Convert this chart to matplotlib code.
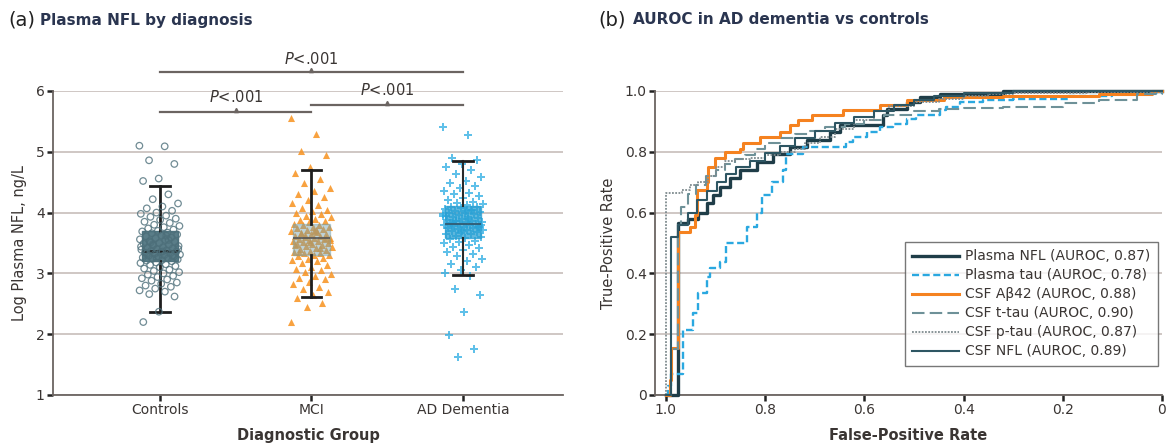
import numpy as np
import matplotlib
matplotlib.use("Agg")
import matplotlib.pyplot as plt

plt.rcParams['font.family'] = ['Liberation Sans Narrow', 'DejaVu Sans']
plt.rcParams['mathtext.fontset'] = 'custom'
plt.rcParams['mathtext.it'] = 'Liberation Sans Narrow:italic'
plt.rcParams['mathtext.rm'] = 'Liberation Sans Narrow'

# ---- panel (a) data ----
groups = ["Controls", "MCI", "AD Dementia"]
box_q1 = [3.21, 3.30, 3.59]
box_med = [3.37, 3.59, 3.82]
box_q3 = [3.70, 3.82, 4.11]
whisk_lo = [2.37, 2.62, 2.97]
whisk_hi = [4.44, 4.70, 4.85]

controls_vals = [5.10, 5.09, 4.86, 4.80, 4.56, 4.52, 4.30, 4.22, 4.15, 4.10, 4.07, 4.03,
                 4.00, 3.98, 3.95, 3.93, 3.90, 3.88, 3.85, 3.83, 3.80, 3.78, 3.76, 3.74,
                 3.72, 3.70, 3.69, 3.67, 3.66, 3.64, 3.62, 3.61, 3.59, 3.58, 3.56, 3.55,
                 3.53, 3.52, 3.50, 3.49, 3.47, 3.46, 3.45, 3.43, 3.42, 3.41, 3.40, 3.39,
                 3.38, 3.37, 3.36, 3.35, 3.34, 3.33, 3.32, 3.31, 3.30, 3.29, 3.28, 3.27,
                 3.26, 3.25, 3.24, 3.23, 3.22, 3.21, 3.20, 3.18, 3.17, 3.15, 3.14, 3.12,
                 3.10, 3.08, 3.06, 3.04, 3.02, 3.00, 2.98, 2.96, 2.94, 2.92, 2.90, 2.88,
                 2.85, 2.83, 2.80, 2.78, 2.75, 2.72, 2.70, 2.66, 2.62, 2.37, 2.20,
                 3.55, 3.48, 3.40, 3.36, 3.33, 3.29, 3.25, 3.44, 3.62, 3.51]
mci_vals = [5.55, 5.30, 5.02, 4.95, 4.75, 4.65, 4.55, 4.48, 4.40, 4.35, 4.30, 4.25,
            4.20, 4.16, 4.12, 4.08, 4.05, 4.02, 4.00, 3.97, 3.95, 3.92, 3.90, 3.88,
            3.86, 3.84, 3.82, 3.80, 3.79, 3.77, 3.76, 3.74, 3.73, 3.71, 3.70, 3.68,
            3.67, 3.65, 3.64, 3.62, 3.61, 3.60, 3.59, 3.58, 3.57, 3.56, 3.55, 3.54,
            3.53, 3.52, 3.50, 3.49, 3.48, 3.46, 3.45, 3.43, 3.42, 3.40, 3.39, 3.37,
            3.36, 3.34, 3.33, 3.31, 3.30, 3.28, 3.26, 3.24, 3.22, 3.20, 3.17, 3.14,
            3.11, 3.08, 3.05, 3.02, 2.99, 2.96, 2.93, 2.90, 2.86, 2.82, 2.78, 2.74,
            2.70, 2.65, 2.60, 2.52, 2.45, 2.20,
            3.72, 3.66, 3.58, 3.51, 3.47, 3.41, 3.63, 3.55, 3.69, 3.35]
ad_vals = [5.40, 5.28, 4.90, 4.86, 4.80, 4.75, 4.70, 4.63, 4.58, 4.52, 4.48, 4.44,
           4.40, 4.36, 4.33, 4.30, 4.27, 4.24, 4.21, 4.18, 4.16, 4.14, 4.12, 4.10,
           4.09, 4.07, 4.06, 4.04, 4.03, 4.01, 4.00, 3.99, 3.97, 3.96, 3.95, 3.93,
           3.92, 3.91, 3.90, 3.88, 3.87, 3.86, 3.85, 3.84, 3.83, 3.82, 3.81, 3.80,
           3.79, 3.78, 3.77, 3.76, 3.75, 3.74, 3.73, 3.72, 3.71, 3.70, 3.68, 3.67,
           3.65, 3.64, 3.62, 3.60, 3.58, 3.56, 3.54, 3.52, 3.50, 3.47, 3.44, 3.41,
           3.38, 3.35, 3.32, 3.28, 3.24, 3.20, 3.15, 3.10, 3.05, 3.00, 2.96, 2.75,
           2.64, 2.36, 1.98, 1.75, 1.62,
           3.98, 3.89, 3.83, 3.76, 3.69, 3.94, 4.05, 3.86, 3.79, 4.02]

pvals = ["P<.001", "P<.001", "P<.001"]

# ---- panel (b) data: ROC step curves (x = false-positive rate axis, reversed) ----
nfl_x = [1.0, 0.976, 0.955, 0.935, 0.918, 0.905, 0.891, 0.871, 0.851, 0.817, 0.784, 0.75,
         0.716, 0.669, 0.649, 0.562, 0.555, 0.515, 0.488, 0.448, 0.32, 0.0]
nfl_y = [0.0, 0.565, 0.58, 0.598, 0.63, 0.658, 0.685, 0.713, 0.74, 0.766, 0.794, 0.816,
         0.838, 0.865, 0.887, 0.92, 0.942, 0.964, 0.98, 0.991, 1.0, 1.0]
tau_x = [1.0, 0.995, 0.99, 0.965, 0.945, 0.935, 0.918, 0.911, 0.891, 0.878, 0.844, 0.837,
         0.817, 0.807, 0.787, 0.764, 0.757, 0.724, 0.649, 0.636, 0.623, 0.595, 0.569, 0.542,
         0.515, 0.495, 0.448, 0.435, 0.408, 0.36, 0.30, 0.19, 0.10, 0.03, 0.0]
tau_y = [0.0, 0.03, 0.07, 0.214, 0.269, 0.334, 0.389, 0.417, 0.439, 0.499, 0.499, 0.554,
         0.598, 0.658, 0.70, 0.74, 0.794, 0.816, 0.816, 0.832, 0.849, 0.865, 0.882, 0.892,
         0.909, 0.92, 0.936, 0.947, 0.964, 0.969, 0.975, 0.985, 0.99, 0.995, 1.0]
ab42_x = [1.0, 0.992, 0.989, 0.976, 0.952, 0.942, 0.938, 0.918, 0.915, 0.901, 0.881, 0.851,
          0.845, 0.81, 0.77, 0.75, 0.734, 0.706, 0.643, 0.569, 0.515, 0.44, 0.32, 0.127, 0.02, 0.0]
ab42_y = [0.0, 0.05, 0.155, 0.537, 0.554, 0.592, 0.674, 0.70, 0.751, 0.778, 0.80, 0.81,
          0.828, 0.849, 0.865, 0.887, 0.904, 0.92, 0.936, 0.953, 0.969, 0.98, 0.985, 0.99, 1.0, 1.0]
ttau_x = [1.0, 0.99, 0.975, 0.97, 0.955, 0.94, 0.92, 0.90, 0.88, 0.86, 0.84, 0.82, 0.80, 0.77,
          0.74, 0.71, 0.68, 0.64, 0.60, 0.56, 0.50, 0.45, 0.40, 0.32, 0.20, 0.127, 0.05, 0.0]
ttau_y = [0.0, 0.15, 0.56, 0.62, 0.66, 0.69, 0.72, 0.74, 0.76, 0.775, 0.79, 0.81, 0.83, 0.845,
          0.86, 0.87, 0.88, 0.89, 0.905, 0.92, 0.935, 0.94, 0.945, 0.948, 0.96, 0.972, 0.99, 1.0]
ptau_x = [1.0, 1.0, 0.968, 0.952, 0.935, 0.915, 0.90, 0.88, 0.86, 0.83, 0.80, 0.77, 0.74, 0.72,
          0.69, 0.66, 0.62, 0.58, 0.55, 0.50, 0.45, 0.40, 0.35, 0.30, 0.15, 0.0]
ptau_y = [0.0, 0.663, 0.674, 0.69, 0.70, 0.72, 0.75, 0.77, 0.775, 0.78, 0.79, 0.80, 0.81, 0.83,
          0.85, 0.875, 0.905, 0.935, 0.95, 0.965, 0.975, 0.985, 0.99, 0.993, 0.997, 1.0]
csfnfl_x = [1.0, 0.989, 0.976, 0.955, 0.938, 0.918, 0.898, 0.878, 0.858, 0.831, 0.80, 0.77,
            0.74, 0.70, 0.66, 0.62, 0.58, 0.54, 0.50, 0.46, 0.40, 0.30, 0.0]
csfnfl_y = [0.0, 0.52, 0.56, 0.60, 0.64, 0.67, 0.70, 0.727, 0.75, 0.77, 0.795, 0.82,
            0.845, 0.87, 0.895, 0.915, 0.935, 0.955, 0.97, 0.985, 0.993, 1.0, 1.0]
roc_labels = ["Plasma NFL (AUROC, 0.87)", "Plasma tau (AUROC, 0.78)", "CSF A\u03b242 (AUROC, 0.88)",
              "CSF t-tau (AUROC, 0.90)", "CSF p-tau (AUROC, 0.87)", "CSF NFL (AUROC, 0.89)"]

grid_c = '#cbc3bf'
spine_c = '#6b6461'
text_c = '#3a3533'

fig = plt.figure(figsize=(11.71, 4.45), dpi=100)
ax1 = fig.add_axes([53/1171, 1-395/445, 510/1171, 304/445])
ax2 = fig.add_axes([655/1171, 1-395/445, 507/1171, 304/445])

for ax in (ax1, ax2):
    for s in ('top', 'right'):
        ax.spines[s].set_visible(False)
    for s in ('left', 'bottom'):
        ax.spines[s].set_color(spine_c)
        ax.spines[s].set_linewidth(1.3)
    ax.tick_params(length=4, width=1.8, color='#222222', labelsize=10, labelcolor=text_c, pad=2)
    ax.set_axisbelow(True)
    ax.yaxis.grid(True, color=grid_c, lw=1.3)

# ---- panel (a) ----
jit_w = 0.27
def jitter(n):
    k = np.arange(n)
    return ((k * 0.6180339887) % 1.0 - 0.5) * jit_w

box_colors = ['#3d6673', '#6f9fae', '#2a9fd2']
stats = []
for i in range(3):
    stats.append(dict(q1=box_q1[i], med=box_med[i], q3=box_q3[i],
                      whislo=whisk_lo[i], whishi=whisk_hi[i], fliers=[]))

# controls: box under open circles
ax1.bxp([stats[0]], positions=[0], widths=0.24, patch_artist=True, zorder=2, manage_ticks=False,
        boxprops=dict(facecolor=box_colors[0], edgecolor=box_colors[0], alpha=0.85),
        medianprops=dict(color='#1e1e1e', lw=1.8), whiskerprops=dict(color='#1e1e1e', lw=2),
        capprops=dict(color='#1e1e1e', lw=2), capwidths=0.13)
xs = jitter(len(controls_vals))
ax1.scatter(xs, controls_vals, s=22, facecolors='none', edgecolors='#4d6f7a', lw=0.9, alpha=0.8, zorder=3)

xs = 1 + jitter(len(mci_vals))
ax1.scatter(xs, mci_vals, s=26, marker='^', color='#f7921e', alpha=0.85, lw=0, zorder=2)
ax1.bxp([stats[1]], positions=[1], widths=0.24, patch_artist=True, zorder=3, manage_ticks=False,
        boxprops=dict(facecolor=box_colors[1], edgecolor=box_colors[1], alpha=0.45),
        medianprops=dict(color='#555555', lw=1.2), whiskerprops=dict(color='#1e1e1e', lw=2),
        capprops=dict(color='#1e1e1e', lw=2), capwidths=0.13)

xs = 2 + jitter(len(ad_vals))
ax1.scatter(xs, ad_vals, s=30, marker='P', color='#29abe2', alpha=0.75, lw=0, zorder=2)
ax1.bxp([stats[2]], positions=[2], widths=0.24, patch_artist=True, zorder=3, manage_ticks=False,
        boxprops=dict(facecolor=box_colors[2], edgecolor=box_colors[2], alpha=0.75),
        medianprops=dict(color='#33566a', lw=1.2), whiskerprops=dict(color='#2a2a2a', lw=1.5),
        capprops=dict(color='#1e1e1e', lw=2), capwidths=0.13)

ax1.set_xlim(-0.705, 2.66)
ax1.set_ylim(1, 6)
ax1.set_yticks([1, 2, 3, 4, 5, 6])
ax1.set_xticks([0, 1, 2])
ax1.set_xticklabels(groups)

# significance brackets
brk_c = '#6b6461'
brackets = [((0, 2), 6.31, 6.52), ((0, 1), 5.66, 5.90), ((1, 2), 5.77, 6.02)]
for (a, c), yb, yt in brackets:
    ax1.plot([a, c], [yb, yb], color=brk_c, lw=1.6, clip_on=False, zorder=4)
    ax1.plot([(a + c) / 2], [yb + 0.03], marker='^', ms=3, color=brk_c, clip_on=False, zorder=4)
for ((a, c), yb, yt), p in zip(brackets, pvals):
    ax1.text((a + c) / 2, yt, r'$\mathit{P}$' + p[1:], ha='center', va='center',
             fontsize=10.5, color=text_c)

ax1.set_ylabel('Log Plasma NFL, ng/L', fontsize=10.5, color=text_c, labelpad=6)
ax1.set_xlabel('Diagnostic Group', fontsize=10.5, color=text_c, labelpad=8, fontweight='bold')

# ---- panel (b) ----
ax2.set_xlim(1.022, 0)
ax2.set_ylim(0, 1)
ax2.set_xticks([1.0, 0.8, 0.6, 0.4, 0.2, 0])
ax2.set_xticklabels(['1.0', '0.8', '0.6', '0.4', '0.2', '0'])
ax2.set_yticks([0, 0.2, 0.4, 0.6, 0.8, 1.0])
ax2.set_yticklabels(['0', '0.2', '0.4', '0.6', '0.8', '1.0'])

curves = [
    (nfl_x, nfl_y, dict(color='#1f3d48', lw=2.4, ls='-')),
    (tau_x, tau_y, dict(color='#2aa8e0', lw=1.7, ls=(0, (3, 1.5)))),
    (ab42_x, ab42_y, dict(color='#f58220', lw=2.2, ls='-')),
    (ttau_x, ttau_y, dict(color='#6e9198', lw=1.5, ls=(0, (6, 2.5)))),
    (ptau_x, ptau_y, dict(color='#7f8b8f', lw=1.3, ls=(0, (1, 0.8)))),
    (csfnfl_x, csfnfl_y, dict(color='#2e5663', lw=1.5, ls='-')),
]
for (x, y, st), lab in zip(curves, roc_labels):
    ax2.plot(x, y, drawstyle='steps-post', label=lab, clip_on=False, zorder=3, **st)

leg = ax2.legend(loc='lower right', bbox_to_anchor=(0.992, 0.095), fontsize=10,
                 frameon=True, fancybox=False, edgecolor='#555555', handlelength=3.4,
                 handletextpad=0.4, borderpad=0.55, labelspacing=0.36, borderaxespad=0)
leg.get_frame().set_linewidth(1.0)
for t in leg.get_texts():
    t.set_color(text_c)

ax2.set_ylabel('True-Positive Rate', fontsize=10.5, color=text_c, labelpad=6)
ax2.set_xlabel('False-Positive Rate', fontsize=10.5, color=text_c, labelpad=8, fontweight='bold')

# panel titles
fig.text(8/1171, 1-20/445, '(a)', fontsize=14, color='#222222', va='center', family='DejaVu Sans')
fig.text(40/1171, 1-20/445, 'Plasma NFL by diagnosis', fontsize=11, color='#2a3550',
         va='center', fontweight='bold')
fig.text(598/1171, 1-20/445, '(b)', fontsize=14, color='#222222', va='center', family='DejaVu Sans')
fig.text(633/1171, 1-20/445, 'AUROC in AD dementia vs controls', fontsize=11, color='#2a3550',
         va='center', fontweight='bold')

fig.savefig('out.png', dpi=100)
